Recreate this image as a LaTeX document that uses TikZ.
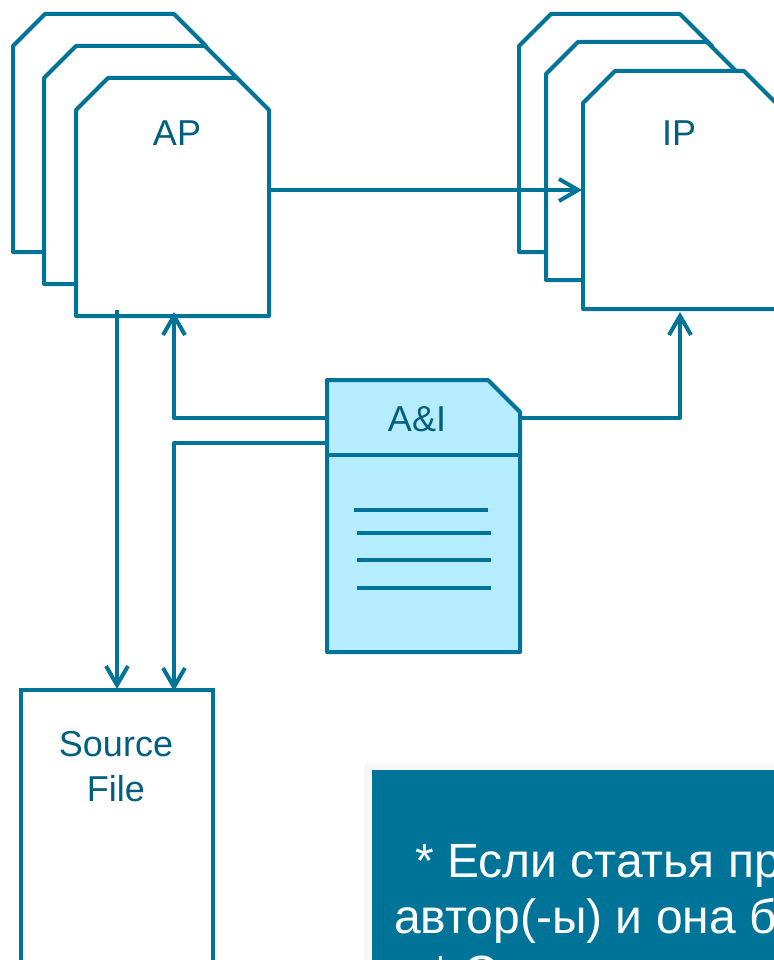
\documentclass[tikz,border=0pt]{standalone}
\usepackage{fontspec}
\setmainfont{Liberation Sans}
\usetikzlibrary{arrows.meta}
\definecolor{linecol}{HTML}{007399}
\definecolor{textcol}{HTML}{005F7F}
\definecolor{doccol}{HTML}{B5ECFF}
\tikzset{
  >={Straight Barb[length=19pt,width=22pt,line width=4pt]},
  flow/.style={draw=linecol,line width=4pt,line join=round},
  card/.style={flow,fill=white},
  title/.style={text=textcol,font=\fontsize{36}{45}\selectfont,align=center,inner sep=0pt},
  notetext/.style={anchor=base west,text=white,inner sep=0pt,font=\fontsize{48}{56}\selectfont}
}
\begin{document}
\begin{tikzpicture}[x=1pt,y=-1pt]
  \useasboundingbox (0,0) rectangle (773,960);

  % stacks of sheets
  \foreach \x/\y in {13/14,44/46,76/78,519/14,546/42,583/71}
    \draw[card] (\x,\y) ++(0,32) -- ++(32,-32) -- ++(129,0) -- ++(32,32) -- ++(0,206) -- ++(-193,0) -- cycle;
  \node (ap) at (177,133) [title] {AP};
  \node (ip) at (679,133) [title] {IP};

  \node (src) at (117,850) [draw=linecol,line width=4pt,fill=white,minimum width=192pt,minimum height=320pt,inner sep=0pt] {};
  \node (srctext) at (116,767) [title] {Source\\File};

  % A&I document
  \coordinate (d1) at (327,380);
  \coordinate (d2) at (488,380);
  \coordinate (d3) at (520,412);
  \coordinate (d4) at (520,652);
  \coordinate (d5) at (327,652);
  \draw[flow,fill=doccol] (d1) -- (d2) -- (d3) -- (d4) -- (d5) -- cycle;
  \coordinate (dl) at (327,455);
  \coordinate (dr) at (520,455);
  \draw[flow] (dl) -- (dr);
  \node (doc) at (417,419) [title] {A\&I};
  \draw[flow] (354,509.5) -- (488,509.5);
  \foreach \y in {533,560,588}
    \draw[flow] (357,\y) -- (491,\y);

  % connectors
  \coordinate (apout) at (269,190);
  \coordinate (ipin) at (582,190);
  \draw[flow,->] (apout) -- (ipin);
  \coordinate (apdown) at (117,310);
  \coordinate (srcin1) at (117,689);
  \draw[flow,->] (apdown) -- (srcin1);
  \coordinate (docleft1) at (327,418);
  \coordinate (apin) at (174,312);
  \draw[flow,->] (docleft1) -- (174,418) -- (apin);
  \coordinate (docleft2) at (327,443);
  \coordinate (srcin2) at (174,691);
  \draw[flow,->] (docleft2) -- (174,443) -- (srcin2);
  \coordinate (docright) at (520,418);
  \coordinate (ipup) at (680,312);
  \draw[flow,->] (docright) -- (680,418) -- (ipup);

  % note box
  \fill[black!3,rounded corners=3pt] (364,763) rectangle (790,980);
  \node (note) at (372,770) [anchor=north west,fill=linecol,minimum width=420pt,minimum height=210pt,inner sep=0pt] {};
  \begin{scope}
    \clip (372,770) rectangle (773,960);
    \node (notea) at (415,877) [notetext] {* Если статья пр};
    \node (noteb) at (394,933) [notetext] {автор(-ы) и она б};
    \node (notec) at (431,989) [notetext] {* С};
  \end{scope}
\end{tikzpicture}
\end{document}
